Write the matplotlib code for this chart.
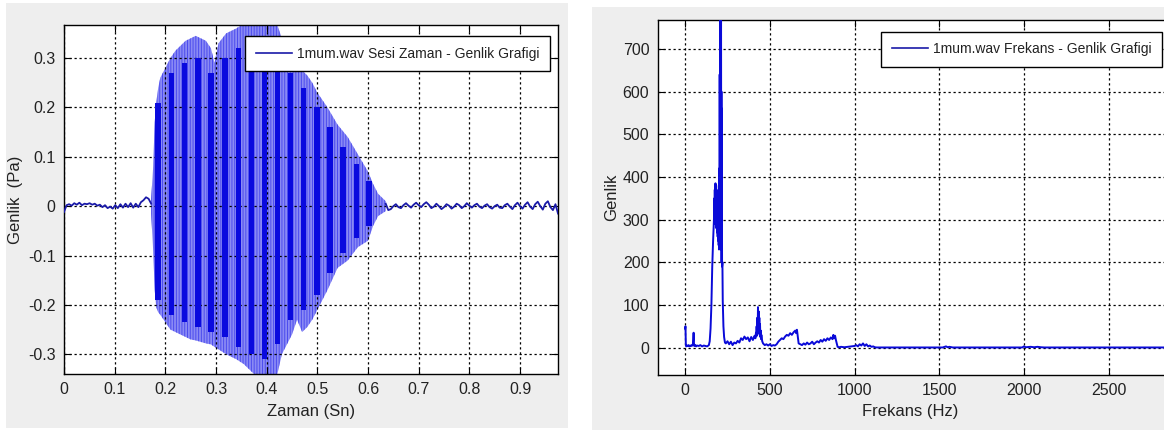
import matplotlib.pyplot as plt
import matplotlib.patches as mpatches
import numpy as np

plt.rcParams['font.family'] = ['Liberation Sans', 'DejaVu Sans']
plt.rcParams['hatch.linewidth'] = 0.7

# --- time signal (1mum.wav) ---
# outer envelope of the voiced part, seconds / Pa
env_t = [0.172, 0.176, 0.179, 0.182, 0.186, 0.19, 0.20, 0.21, 0.22, 0.23, 0.24, 0.25,
         0.26, 0.27, 0.28, 0.29, 0.297, 0.305, 0.32, 0.34, 0.355, 0.37, 0.38, 0.42,
         0.43, 0.44, 0.45, 0.46, 0.47, 0.48, 0.49, 0.50, 0.52, 0.54, 0.56, 0.58,
         0.60, 0.61, 0.62, 0.635]
env_top = [0.015, 0.08, 0.17, 0.21, 0.24, 0.26, 0.28, 0.30, 0.315, 0.325, 0.335, 0.34,
           0.345, 0.34, 0.335, 0.32, 0.29, 0.33, 0.35, 0.36, 0.37, 0.37, 0.37, 0.37,
           0.34, 0.32, 0.30, 0.29, 0.275, 0.265, 0.25, 0.23, 0.20, 0.165, 0.14, 0.105,
           0.07, 0.045, 0.025, 0.01]
env_bot = [-0.015, -0.09, -0.17, -0.205, -0.215, -0.22, -0.235, -0.25, -0.255, -0.26, -0.265, -0.27,
           -0.272, -0.275, -0.278, -0.28, -0.285, -0.29, -0.30, -0.31, -0.32, -0.335, -0.345, -0.345,
           -0.30, -0.28, -0.26, -0.23, -0.255, -0.245, -0.23, -0.21, -0.17, -0.125, -0.11, -0.083,
           -0.07, -0.04, -0.02, -0.01]

# darker pitch bands inside the voiced part
band_t = [0.186, 0.212, 0.238, 0.264, 0.290, 0.318, 0.344, 0.370, 0.396, 0.421,
          0.447, 0.473, 0.499, 0.525, 0.551, 0.577, 0.602]
band_top = [0.21, 0.27, 0.29, 0.30, 0.27, 0.30, 0.32, 0.33, 0.34, 0.31,
            0.27, 0.24, 0.20, 0.16, 0.12, 0.085, 0.05]
band_bot = [-0.19, -0.22, -0.235, -0.245, -0.255, -0.265, -0.285, -0.30, -0.31, -0.28,
            -0.23, -0.21, -0.18, -0.135, -0.095, -0.065, -0.04]

# background noise before and after the word
pre_noise = [-0.012, 0.002, 0.004, 0.001, 0.006, 0.003, 0.007, 0.002, 0.005, 0.004,
             0.006, 0.003, 0.005, 0.001, 0.003, -0.002, 0.002, -0.004, -0.001, -0.005,
             0.002, -0.004, 0.004, -0.003, 0.005, -0.002, 0.006, -0.003, 0.005, -0.002,
             0.008, 0.012, 0.018, 0.015, 0.005]
post_noise = [0.005, -0.008, -0.006, 0.000, 0.004, -0.002, -0.004, 0.002, 0.006, 0.001,
              -0.003, 0.003, 0.007, 0.002, -0.002, 0.004, 0.008, 0.003, -0.004, -0.001,
              0.005, 0.000, -0.006, -0.002, 0.004, 0.001, -0.005, -0.001, 0.005, 0.002,
              -0.004, 0.000, 0.006, 0.001, -0.003, 0.002, 0.005, -0.001, -0.004, 0.001,
              0.004, -0.002, -0.005, 0.000, 0.003, -0.003, -0.004, 0.002, 0.005, -0.001,
              -0.006, 0.002, 0.007, 0.000, -0.005, 0.003, 0.008, -0.001, -0.006, 0.004,
              0.009, 0.000, -0.007, 0.005, 0.010, -0.002, -0.008, 0.004, -0.015]

# --- magnitude spectrum ---
spec_f = ([0, 2, 4, 6, 10, 15, 20, 25, 30, 35, 40, 45, 48, 50, 52, 55, 60, 65, 70, 80,
           90, 100, 110, 120, 130, 140, 145, 150, 155, 160, 165, 170]
          + list(range(172, 217))
          + [218, 220, 222, 226, 230, 235, 240,
             250, 260, 270, 280, 290, 300, 310, 320, 330, 340, 350, 360, 370, 380, 390, 400,
             410, 415, 418, 420, 422, 424, 426, 428, 430, 432, 434, 436, 438, 440, 442, 444,
             446, 448, 450, 455, 460, 470, 480,
             490, 500, 510, 520, 530, 540, 550, 560, 570, 580, 590, 600, 610, 620, 630, 640,
             650, 655, 660, 665, 670, 680, 690, 700, 710, 720, 730, 740, 750, 760, 770, 780,
             790, 800, 810, 820, 830, 840, 850, 860, 870, 875, 880, 885, 890, 895, 900, 910,
             920, 940, 960, 980, 1000, 1010, 1020, 1030, 1040, 1050, 1060, 1070, 1080, 1090,
             1100, 1110, 1120, 1130,
             1200, 1400, 1520, 1540, 1550, 1560, 1580, 1800, 1990, 2000, 2010, 2040, 2060,
             2080, 2100, 2120, 2400, 2900])
spec_a = ([45, 50, 8, 3, 5, 4, 6, 3, 5, 4, 6, 5, 20, 35, 10, 4, 6, 3, 5, 4,
           6, 3, 5, 4, 3, 6, 15, 45, 100, 190, 250, 300]
          # 172 .. 216 Hz, one value per Hz
          + [320, 350, 290, 370, 310, 380, 300, 385, 290, 375, 300, 380, 280, 370, 290,
             360, 270, 350, 280, 340, 260, 330, 270, 320, 250, 310, 240, 300, 230,
             300, 420, 260, 640, 250, 560, 300, 790, 260, 790, 400, 790, 230, 600, 200, 560]
          + [190, 200, 110, 50, 25, 12, 10,
             15, 8, 14, 6, 12, 10, 16, 12, 22, 18, 26, 20, 24, 15, 25, 18,
             28, 22, 35, 30, 50, 28, 70, 35, 95, 45, 85, 35, 70, 30, 55, 25,
             40, 20, 30, 15, 10, 6, 8,
             5, 8, 4, 6, 5, 8, 14, 18, 22, 20, 26, 30, 28, 34, 30, 36,
             40, 34, 42, 25, 10, 8, 6, 10, 7, 12, 8, 10, 14, 8, 12, 15,
             12, 18, 14, 20, 16, 22, 18, 24, 20, 30, 22, 28, 18, 10, 2, 1,
             2, 1, 2, 3, 4, 6, 3, 8, 5, 10, 4, 8, 3, 5,
             2, 3, 1, 0.5,
             0.5, 0.5, 0.5, 3, 1, 2, 0.5, 0.5, 0.5, 3, 1, 2, 1,
             2, 1, 0.5, 0.5, 0.5])

fig = plt.figure(figsize=(11.64, 4.32), dpi=100)

# grey window panels behind each plot
for x0, y0, w, h in [(0.005, 0.009, 0.483, 0.984), (0.509, 0.005, 0.495, 0.979)]:
    fig.patches.append(mpatches.Rectangle((x0, y0), w, h, transform=fig.transFigure,
                                          facecolor='#eeeeee', edgecolor='none', zorder=-5))

grid_style = dict(color='k', linestyle=(0, (1.8, 2.2)), linewidth=0.9)
txt = '#222222'

# left: time domain
ax1 = fig.add_axes([64 / 1164, 58 / 432, 494 / 1164, 349 / 432])
ax1.fill_between(env_t, env_bot, env_top, facecolor='#8a8af4', edgecolor='#4c4cee',
                 hatch='||||||', linewidth=0, zorder=1)
ax1.bar(band_t, np.array(band_top) - np.array(band_bot), bottom=band_bot, width=0.011,
        color='#0a0ade', zorder=3)
t_pre = np.linspace(0.0, 0.172, len(pre_noise))
t_post = np.linspace(0.635, 0.975, len(post_noise))
ax1.plot(t_pre, pre_noise, color='#1a1aa8', linewidth=1.3, zorder=3)
ax1.plot(t_post, post_noise, color='#1a1aa8', linewidth=1.3, zorder=3,
         label='1mum.wav Sesi Zaman - Genlik Grafigi')
ax1.set_xlim(0, 0.975)
ax1.set_ylim(-0.34, 0.367)
ax1.set_xticks(np.arange(0, 1.0, 0.1))
ax1.set_xticklabels(['0', '0.1', '0.2', '0.3', '0.4', '0.5', '0.6', '0.7', '0.8', '0.9'])
ax1.set_yticks([-0.3, -0.2, -0.1, 0, 0.1, 0.2, 0.3])
ax1.set_yticklabels(['-0.3', '-0.2', '-0.1', '0', '0.1', '0.2', '0.3'])
ax1.set_xlabel('Zaman (Sn)', fontsize=12, color=txt)
ax1.set_ylabel('Genlik  (Pa)', fontsize=12, color=txt)
ax1.xaxis.set_label_coords(0.5, -0.085)
ax1.yaxis.set_label_coords(-0.083, 0.5)

# right: frequency domain
ax2 = fig.add_axes([657.7 / 1164, 57 / 432, 517 / 1164, 355.2 / 432])
ax2.plot(spec_f, spec_a, color='#0a0ad8', linewidth=1.4, zorder=3,
         label='1mum.wav Frekans - Genlik Grafigi')
ax2.set_xlim(-162, 2890)
ax2.set_ylim(-64, 768)
ax2.set_xticks([0, 500, 1000, 1500, 2000, 2500])
ax2.set_yticks([0, 100, 200, 300, 400, 500, 600, 700])
ax2.set_xlabel('Frekans (Hz)', fontsize=12, color=txt)
ax2.set_ylabel('Genlik', fontsize=12, color=txt)
ax2.xaxis.set_label_coords(0.488, -0.083)
ax2.yaxis.set_label_coords(-0.075, 0.5)

for ax in (ax1, ax2):
    ax.set_facecolor('white')
    ax.set_axisbelow(False)
    ax.grid(True, **grid_style)
    ax.tick_params(direction='in', top=True, right=True, length=5, width=0.8,
                   labelsize=11.5, labelcolor=txt, pad=6)
    for s in ax.spines.values():
        s.set_linewidth(1.0)
        s.set_color('k')

leg1 = ax1.legend(loc='upper right', bbox_to_anchor=(0.984, 0.968), borderaxespad=0,
                  fancybox=False, edgecolor='k', framealpha=1, fontsize=10,
                  handlelength=2.6, handletextpad=0.4, borderpad=0.75)
leg2 = ax2.legend(loc='upper right', bbox_to_anchor=(0.976, 0.966), borderaxespad=0,
                  fancybox=False, edgecolor='k', framealpha=1, fontsize=10,
                  handlelength=2.6, handletextpad=0.4, borderpad=0.75)
for leg in (leg1, leg2):
    leg.set_zorder(10)
    leg.get_frame().set_linewidth(1.0)
    for line in leg.get_lines():
        line.set_color('#1a1aa8')
        line.set_linewidth(1.2)
    for t in leg.get_texts():
        t.set_color(txt)

fig.savefig('out.png', dpi=100)
